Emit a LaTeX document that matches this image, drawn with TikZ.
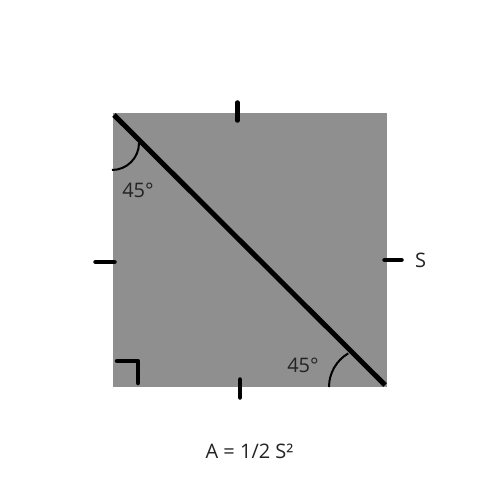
\documentclass[tikz,border=0pt]{standalone}
\usepackage{fontspec}
\setmainfont{Open Sans}
\definecolor{sq}{RGB}{143,143,143}
\definecolor{txt}{RGB}{35,35,35}
\begin{document}
\begin{tikzpicture}[x=1pt,y=-1pt,
  tick/.style={line width=4.5pt, line cap=round},
  arcline/.style={line width=2pt},
  lbl/.style={inner sep=0pt, text=txt, font=\fontsize{20}{24}\selectfont}]
\useasboundingbox[fill=white] (0,0) rectangle (500,500);
\fill[sq] (113,113) rectangle (387,387);
\coordinate (tl) at (114,115);
\coordinate (br) at (385,385);
\draw[line width=5pt] (tl) -- (br);
% ticks
\coordinate (t1) at (237.5,102.5); \coordinate (t2) at (237.5,120.5);
\draw[tick] (t1) -- (t2);
\coordinate (l1) at (95.5,262); \coordinate (l2) at (114.5,262);
\draw[tick] (l1) -- (l2);
\coordinate (r1) at (384.5,260); \coordinate (r2) at (401.5,260);
\draw[tick] (r1) -- (r2);
\coordinate (b1) at (240,379.5); \coordinate (b2) at (240,397.5);
\draw[tick] (b1) -- (b2);
% right angle
\coordinate (ra1) at (117,361); \coordinate (ra2) at (138,361); \coordinate (ra3) at (138,383);
\draw[tick, line join=round] (ra1) -- (ra2) -- (ra3);
% angle arcs
\coordinate (a1s) at (139,143);
\draw[arcline] (a1s) arc[start angle=0, end angle=90, radius=27];
\coordinate (a2s) at (329,387);
\draw[arcline] (a2s) arc[start angle=180, end angle=239.5, radius=39];
% labels
\node[lbl] (ang1) at (138,190) {45°};
\node[lbl] (ang2) at (303,365) {45°};
\node[lbl] (side) at (420.5,260) {S};
\node[lbl] (area) at (249.5,451.5) {A = 1/2 S²};
\end{tikzpicture}
\end{document}
